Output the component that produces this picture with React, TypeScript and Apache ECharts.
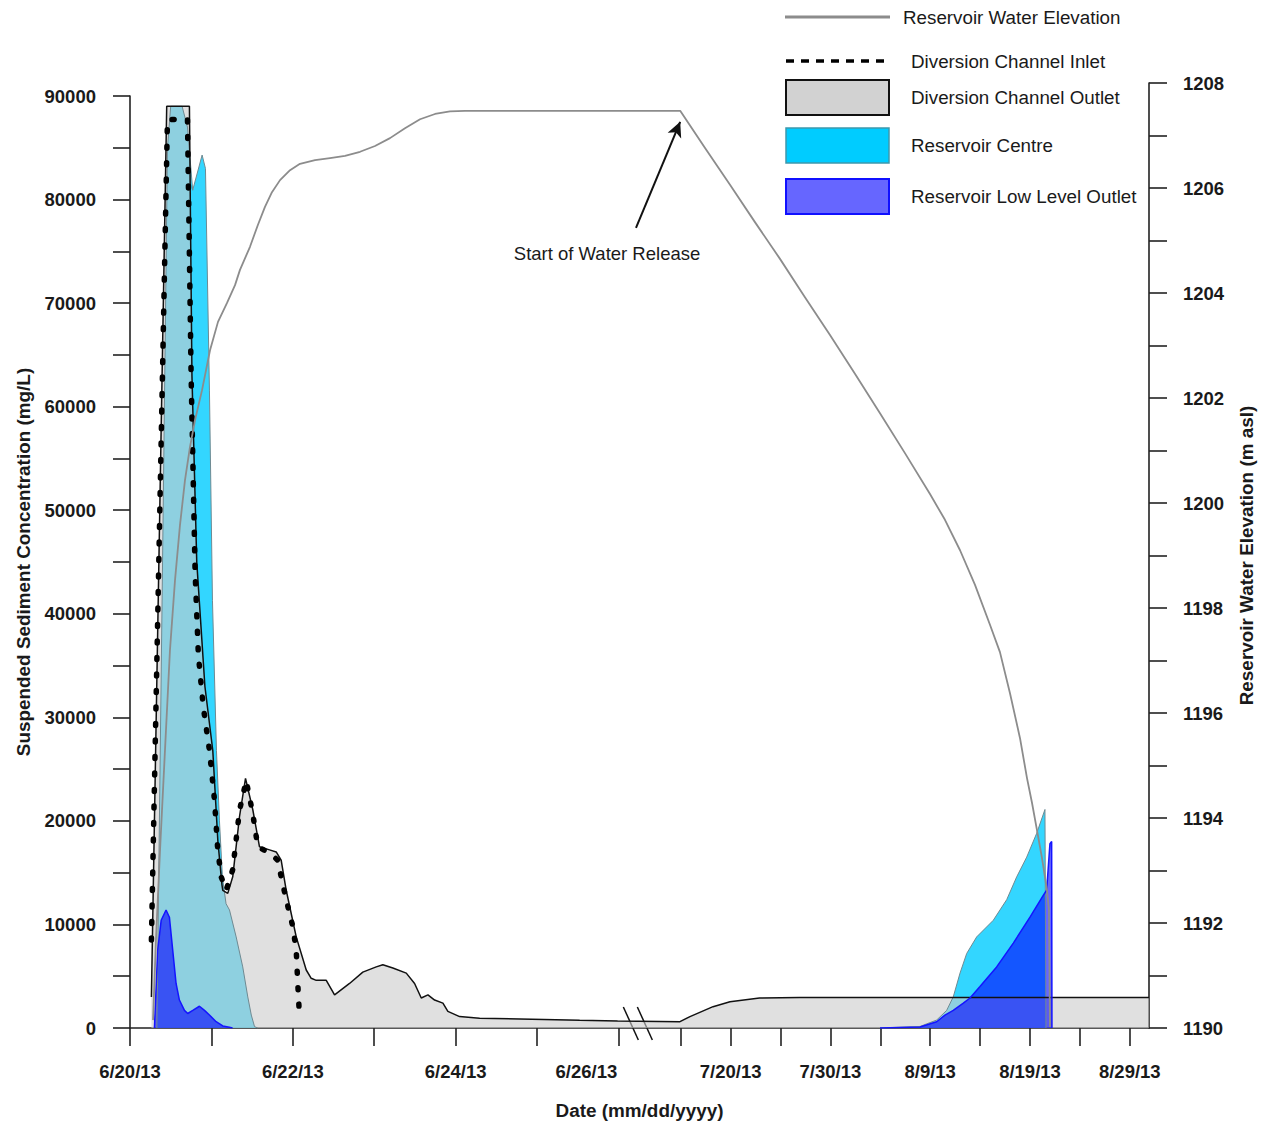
import React, { useEffect, useRef } from "react";
import * as echarts from "echarts";

// ---- time axis (days counted from 6/20/13 00:00) ----
const X_TICK_DAYS = [0, 1, 2, 3, 4, 5, 6, 25, 30, 35, 40, 45, 50, 55, 60, 65, 70];
const X_LABEL_DAYS = [0, 2, 4, 6, 30, 40, 50, 60, 70];
const X_LABEL_TEXTS = ["6/20/13", "6/22/13", "6/24/13", "6/26/13", "7/20/13", "7/30/13", "8/9/13", "8/19/13", "8/29/13"];

// broken axis scale: June days at full scale, from 7/15 (day 25) compressed
const SEG_SPLIT_DAY = 10;
const SEG2_FIRST_DAY = 25;
const SEG2_START_POS = 6.765;
const SEG2_SCALE = 0.1226;
const X_MAX_POS = 12.518;
const BREAK_POS = 6.262;

// ---- series: [day, value] ----
const ELEVATION = [
  [0.283, 1190.15], [0.319, 1191.68], [0.369, 1193.39], [0.43, 1195.3], [0.491, 1197.2], [0.553, 1198.53],
  [0.614, 1199.58], [0.676, 1200.44], [0.737, 1201.07], [0.799, 1201.58], [0.885, 1202.15], [0.983, 1202.91],
  [1.081, 1203.45], [1.192, 1203.81], [1.29, 1204.15], [1.351, 1204.44], [1.474, 1204.88], [1.572, 1205.3],
  [1.658, 1205.64], [1.744, 1205.92], [1.843, 1206.15], [1.966, 1206.34], [2.088, 1206.46], [2.273, 1206.53],
  [2.457, 1206.57], [2.641, 1206.61], [2.826, 1206.69], [3.01, 1206.8], [3.194, 1206.95], [3.378, 1207.14],
  [3.563, 1207.31], [3.747, 1207.41], [3.931, 1207.46], [4.115, 1207.47],
  [24.95, 1207.47], [27.44, 1206.76], [29.94, 1206.06], [32.44, 1205.35], [34.95, 1204.65], [37.45, 1203.92],
  [39.96, 1203.2], [42.46, 1202.46], [44.97, 1201.71], [47.47, 1200.95], [49.98, 1200.17], [51.48, 1199.68],
  [52.99, 1199.1], [54.49, 1198.44], [55.99, 1197.68], [56.99, 1197.16], [57.99, 1196.38], [59.0, 1195.52],
  [59.7, 1194.76], [60.2, 1194.29], [60.7, 1193.77], [61.2, 1193.24], [61.7, 1192.63], [61.9, 1192.25],
  [62.0, 1190.02],
];

const INLET = [
  [0.263, 8500], [0.46, 87700], [0.706, 87800], [0.751, 62900], [0.8, 44000], [0.84, 36000],
  [0.9, 31000], [0.976, 26800], [1.038, 22000], [1.078, 17200], [1.12, 14600], [1.181, 13300],
  [1.262, 15300], [1.345, 21000], [1.427, 23900], [1.508, 20700], [1.57, 17500], [1.714, 16900],
  [1.816, 16200], [1.857, 14600], [1.919, 12400], [2.0, 9800], [2.042, 7500], [2.061, 4300],
  [2.082, 1100],
];

const OUTLET = [
  [0.263, 3000], [0.451, 89000], [0.73, 89000], [0.761, 63000], [0.82, 45000], [0.92, 33000],
  [1.017, 26800], [1.08, 18000], [1.13, 13800], [1.14, 13300], [1.201, 13000], [1.262, 14600],
  [1.345, 20400], [1.419, 24100], [1.508, 21100], [1.591, 17500], [1.714, 17200], [1.796, 17000],
  [1.857, 16200], [1.919, 13300], [2.042, 8800], [2.165, 5600], [2.226, 4800], [2.288, 4600],
  [2.411, 4600], [2.513, 3200], [2.697, 4300], [2.86, 5400], [3.025, 5900], [3.106, 6100],
  [3.229, 5800], [3.394, 5300], [3.496, 4300], [3.578, 2900], [3.66, 3200], [3.742, 2700],
  [3.844, 2400], [3.905, 1600], [4.049, 1100], [4.295, 940], [5.524, 750], [5.99, 680],
  [24.93, 610], [25.93, 1100], [28.24, 2060], [29.94, 2540], [32.9, 2900], [36.9, 2950], [71.92, 2950],
];

const CENTRE_JUNE = [
  [0.33, 0], [0.4, 45000], [0.46, 85000], [0.5, 89000], [0.64, 89000], [0.706, 87000],
  [0.77, 80900], [0.886, 84300], [0.927, 83000], [0.976, 61600], [1.013, 41300], [1.062, 26800],
  [1.099, 20000], [1.136, 14500], [1.18, 12000], [1.222, 11400], [1.304, 8800], [1.385, 5900],
  [1.447, 3000], [1.49, 1250], [1.53, 130], [1.57, 0],
];
const CENTRE_AUG = [
  [44.97, 0], [48.98, 150], [50.65, 770], [51.65, 1700], [52.31, 3000], [52.99, 5300],
  [53.66, 7200], [54.66, 8800], [56.32, 10400], [57.67, 12400], [58.67, 14600], [59.67, 16500],
  [60.67, 18800], [61.5, 21100], [61.6, 0],
];

const LOW_OUTLET_JUNE = [
  [0.3, 0], [0.34, 7500], [0.383, 10400], [0.443, 11400], [0.484, 10700], [0.525, 7500],
  [0.566, 4300], [0.607, 2700], [0.669, 1700], [0.709, 1400], [0.771, 1700], [0.853, 2100],
  [0.915, 1700], [0.976, 1250], [1.058, 610], [1.14, 200], [1.22, 70], [1.26, 0],
];
const LOW_OUTLET_AUG = [
  [44.97, 0], [48.98, 100], [50.65, 600], [51.48, 1250], [52.31, 1700], [53.32, 2400],
  [53.99, 2900], [54.99, 4000], [56.66, 5900], [58.33, 8200], [60.0, 10700], [61.33, 12800],
  [61.67, 13300], [62.0, 17800], [62.17, 18000], [62.2, 0],
];

// annotation: [day, elevation]
const ARROW_TAIL = [20.52, 1205.24];
const ARROW_HEAD = [24.95, 1207.26];
const NOTE_AT = [5.86, 1204.76];
const NOTE_TEXT = "Start of Water Release";

const FONT = "'Liberation Sans', Arial, Helvetica, sans-serif";
const INK = "#1a1a1a";

const toPos = (d: number) =>
  d < SEG_SPLIT_DAY ? d : SEG2_START_POS + (d - SEG2_FIRST_DAY) * SEG2_SCALE;
const mapData = (arr: number[][]) => arr.map(([d, v]) => [toPos(d), v]);

export default function App() {
  const ref = useRef<HTMLDivElement>(null);

  useEffect(() => {
    if (!ref.current) return;
    const chart = echarts.init(ref.current, undefined, { renderer: "svg" });

    const labelFor = (v: number) => {
      for (let i = 0; i < X_LABEL_DAYS.length; i++) {
        if (Math.abs(toPos(X_LABEL_DAYS[i]) - v) < 1e-6) {
          return X_LABEL_TEXTS[i] === "6/26/13" ? `{shift|${X_LABEL_TEXTS[i]}}` : X_LABEL_TEXTS[i];
        }
      }
      return "";
    };

    const axisLine = { show: true, onZero: false, lineStyle: { color: "#222", width: 1.6 } };
    const axisTick = (len: number) => ({ show: true, inside: false, length: len, lineStyle: { color: "#222", width: 1.6 } });
    const tickLabel = { color: INK, fontSize: 18.5, fontWeight: "bold" as const, fontFamily: FONT };
    const nameStyle = { color: INK, fontSize: 18.9, fontWeight: "bold" as const, fontFamily: FONT };

    const area = (name: string, data: number[][], fill: string, line: string, lw: number) => ({
      type: "line",
      name,
      data: mapData(data),
      xAxisIndex: 0,
      yAxisIndex: 0,
      showSymbol: false,
      symbol: "none",
      silent: true,
      lineStyle: { color: line, width: lw },
      areaStyle: { color: fill, opacity: 1 },
    });

    const centreFill = "rgba(0,204,255,0.8)";
    const outletFill = "rgba(203,203,203,0.6)";
    const lowFill = "rgba(0,0,255,0.6)";

    const option: any = {
      animation: false,
      backgroundColor: "#ffffff",
      grid: [
        { left: 130, right: 118, top: 96, bottom: 99 },
        { left: 130, right: 118, top: 83, bottom: 99 },
      ],
      xAxis: [
        {
          type: "value",
          gridIndex: 0,
          min: 0,
          max: X_MAX_POS,
          name: "Date (mm/dd/yyyy)",
          nameLocation: "middle",
          nameGap: 73,
          nameTextStyle: nameStyle,
          axisLine,
          axisTick: { ...axisTick(18), customValues: X_TICK_DAYS.map(toPos) },
          axisLabel: {
            ...tickLabel,
            margin: 34,
            customValues: X_LABEL_DAYS.map(toPos),
            formatter: labelFor,
            rich: {
              shift: { ...tickLabel, padding: [0, 64, 0, 0] },
            },
          },
          splitLine: { show: false },
        },
        { type: "value", gridIndex: 1, min: 0, max: X_MAX_POS, show: false },
      ],
      yAxis: [
        {
          type: "value",
          gridIndex: 0,
          position: "left",
          min: 0,
          max: 90000,
          interval: 5000,
          name: "Suspended Sediment Concentration (mg/L)",
          nameLocation: "middle",
          nameRotate: 90,
          nameGap: 97,
          nameTextStyle: nameStyle,
          axisLine,
          axisTick: axisTick(17),
          axisLabel: { ...tickLabel, margin: 34, formatter: (v: number) => (v % 10000 === 0 ? String(v) : "") },
          splitLine: { show: false },
        },
        {
          type: "value",
          gridIndex: 1,
          position: "right",
          min: 1190,
          max: 1208,
          interval: 1,
          name: "Reservoir Water Elevation (m asl)",
          nameLocation: "middle",
          nameRotate: 90,
          nameGap: 88,
          nameTextStyle: nameStyle,
          axisLine,
          axisTick: axisTick(18),
          axisLabel: { ...tickLabel, margin: 34, formatter: (v: number) => (v % 2 === 0 ? String(v) : "") },
          splitLine: { show: false },
        },
      ],
      series: [
        area("Reservoir Centre", CENTRE_JUNE, centreFill, "#6f8a92", 1),
        area("Reservoir Centre", CENTRE_AUG, centreFill, "#6f8a92", 1),
        area("Diversion Channel Outlet", OUTLET, outletFill, "#111111", 1.5),
        area("Reservoir Low Level Outlet", LOW_OUTLET_JUNE, lowFill, "#1414ff", 1.5),
        area("Reservoir Low Level Outlet", LOW_OUTLET_AUG, lowFill, "#1414ff", 1.5),
        {
          type: "line",
          name: "Diversion Channel Inlet",
          data: mapData(INLET),
          xAxisIndex: 0,
          yAxisIndex: 0,
          showSymbol: false,
          symbol: "none",
          silent: true,
          lineStyle: { color: "#000", width: 5.5, type: [2, 14.5], cap: "round", join: "round" },
        },
        {
          type: "line",
          name: "Reservoir Water Elevation",
          data: mapData(ELEVATION),
          xAxisIndex: 1,
          yAxisIndex: 1,
          showSymbol: false,
          symbol: "none",
          silent: true,
          lineStyle: { color: "#8c8c8c", width: 1.8, join: "round" },
          markLine: {
            silent: true,
            symbol: ["none", "arrow"],
            symbolSize: [11, 15],
            lineStyle: { color: "#111", width: 2, type: "solid" },
            label: { show: false },
            data: [[
              { coord: [toPos(ARROW_TAIL[0]), ARROW_TAIL[1]] },
              { coord: [toPos(ARROW_HEAD[0]), ARROW_HEAD[1]] },
            ]],
          },
          markPoint: {
            silent: true,
            symbol: "circle",
            symbolSize: 1,
            itemStyle: { color: "rgba(0,0,0,0)" },
            label: {
              show: true,
              position: "inside",
              formatter: NOTE_TEXT,
              color: INK,
              fontSize: 18.5,
              fontFamily: FONT,
            },
            data: [{ coord: [toPos(NOTE_AT[0]), NOTE_AT[1]] }],
          },
        },
      ],
      graphic: [
        { type: "line", shape: { x1: 785, y1: 17, x2: 890, y2: 17 }, style: { stroke: "#8c8c8c", lineWidth: 3 } },
        { type: "text", x: 903, y: 17, style: { text: "Reservoir Water Elevation", fill: INK, font: `18.8px ${FONT}`, textVerticalAlign: "middle" } },
        { type: "line", shape: { x1: 786, y1: 61, x2: 890, y2: 61 }, style: { stroke: "#000", lineWidth: 3.5, lineDash: [8, 7] } },
        { type: "text", x: 911, y: 61, style: { text: "Diversion Channel Inlet", fill: INK, font: `18.8px ${FONT}`, textVerticalAlign: "middle" } },
        { type: "rect", shape: { x: 786, y: 80, width: 103, height: 35 }, style: { fill: "#d2d2d2", stroke: "#111", lineWidth: 2 } },
        { type: "text", x: 911, y: 97, style: { text: "Diversion Channel Outlet", fill: INK, font: `18.8px ${FONT}`, textVerticalAlign: "middle" } },
        { type: "rect", shape: { x: 786, y: 128, width: 103, height: 35 }, style: { fill: "#00ccff", stroke: "#3c98ad", lineWidth: 1.5 } },
        { type: "text", x: 911, y: 145, style: { text: "Reservoir Centre", fill: INK, font: `18.8px ${FONT}`, textVerticalAlign: "middle" } },
        { type: "rect", shape: { x: 786, y: 179, width: 103, height: 35 }, style: { fill: "#6666ff", stroke: "#1010ff", lineWidth: 2 } },
        { type: "text", x: 911, y: 196, style: { text: "Reservoir Low Level Outlet", fill: INK, font: `18.8px ${FONT}`, textVerticalAlign: "middle" } },
      ],
    };

    chart.setOption(option);

    // axis-break marks, placed from the axis scale
    const p = chart.convertToPixel({ gridIndex: 0 }, [BREAK_POS, 0]) as number[];
    if (p && isFinite(p[0])) {
      const [cx, cy] = p;
      const breaks = [
        { type: "line", shape: { x1: cx - 16.4, y1: cy - 21, x2: cx - 1.4, y2: cy + 12 }, style: { stroke: "#111", lineWidth: 1.5 } },
        { type: "line", shape: { x1: cx - 2.4, y1: cy - 21, x2: cx + 12.6, y2: cy + 12 }, style: { stroke: "#111", lineWidth: 1.5 } },
      ];
      chart.setOption({ graphic: [...option.graphic, ...breaks] }, { replaceMerge: ["graphic"] });
    }

    return () => chart.dispose();
  }, []);

  return (
    <div
      ref={ref}
      style={{ position: "absolute", left: 0, top: 0, width: 1267, height: 1127, background: "#fff" }}
    />
  );
}
